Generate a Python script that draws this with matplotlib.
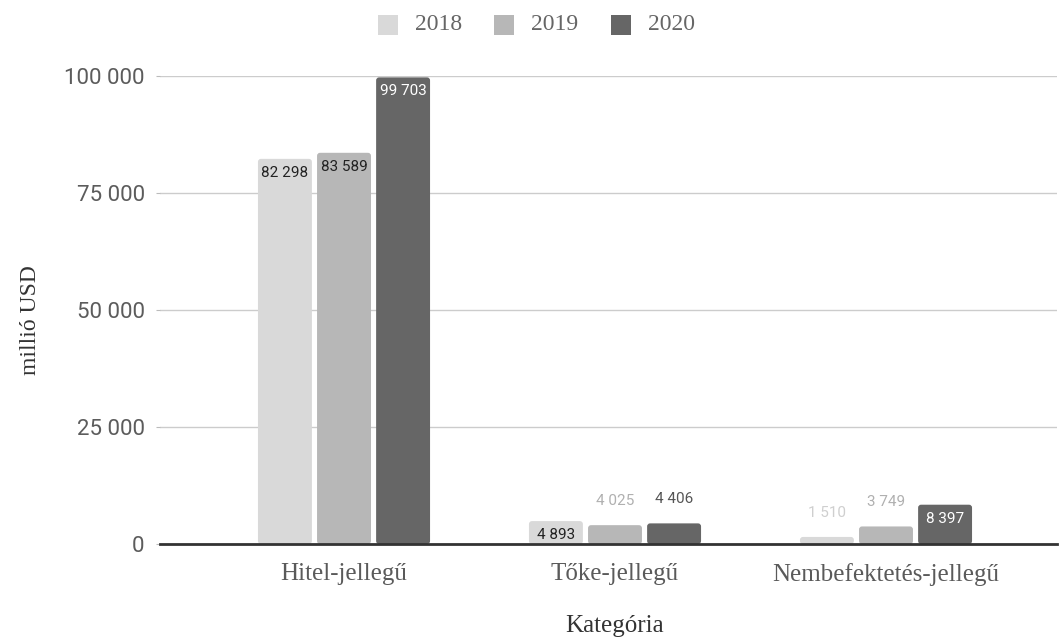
import matplotlib
matplotlib.use("Agg")
import matplotlib.pyplot as plt
from matplotlib.patches import FancyBboxPatch, Rectangle
import numpy as np

categories = ["Hitel-jellegű", "Tőke-jellegű", "Nembefektetés-jellegű"]
years = ["2018", "2019", "2020"]
values_2018 = [82298, 4893, 1510]
values_2019 = [83589, 4025, 3749]
values_2020 = [99703, 4406, 8397]
yticks = [0, 25000, 50000, 75000, 100000]

series = [values_2018, values_2019, values_2020]
colors = ["#d9d9d9", "#b7b7b7", "#666666"]
outside_text = ["#cfcfcf", "#b0b0b0", "#555555"]
inside_text = ["#222222", "#222222", "#ffffff"]

SERIF = "Liberation Serif"
SANS = "Roboto"

W, H = 1059, 639
fig = plt.figure(figsize=(W / 100, H / 100), dpi=100)
ax = fig.add_axes([160 / W, (H - 544) / H, 897 / W, 468 / H])
ax.set_xlim(-0.679, 2.631)
ax.set_ylim(0, 100000)

x = np.arange(len(categories))
bar_w = 0.199
step = 0.218

# data units per pixel, used to keep corner rounding circular
px_x = (2.631 + 0.679) / 897
px_y = 100000 / 468
aspect = px_y / px_x

for i, (vals, col) in enumerate(zip(series, colors)):
    for j, v in enumerate(vals):
        xc = x[j] + (i - 1) * step
        patch = FancyBboxPatch((xc - bar_w / 2, 0), bar_w, v,
                               boxstyle="round,pad=0,rounding_size=%f" % (3 * px_x),
                               mutation_aspect=aspect,
                               facecolor=col, edgecolor="none", zorder=3)
        ax.add_patch(patch)
        label = f"{v:,}".replace(",", " ")
        if v > 4500:
            ax.annotate(label, (xc, v), xytext=(0, -14), textcoords="offset pixels",
                        ha="center", va="center", fontsize=11, family=SANS,
                        color=inside_text[i], zorder=5)
        else:
            ax.annotate(label, (xc, v), xytext=(0, 24), textcoords="offset pixels",
                        ha="center", va="center", fontsize=11, family=SANS,
                        color=outside_text[i], zorder=5)

ax.set_yticks(yticks)
ax.set_yticklabels([f"{t:,}".replace(",", " ") for t in yticks],
                   family=SANS, fontsize=16, color="#5c5c5c")
ax.set_xticks(x)
ax.set_xticklabels(categories, family=SERIF, fontsize=18, color="#5a5a5a")
ax.tick_params(axis="y", length=3, color="#bbbbbb", pad=8)
ax.tick_params(axis="x", length=0, pad=14)

ax.grid(axis="y", color="#cccccc", linewidth=1, zorder=0)
ax.set_axisbelow(True)
for s in ["top", "right", "left"]:
    ax.spines[s].set_visible(False)
ax.spines["bottom"].set_color("#333333")
ax.spines["bottom"].set_linewidth(2)
ax.spines["bottom"].set_zorder(4)

fig.text(30 / W, 1 - 320 / H, "millió USD", rotation=90, ha="center", va="center",
         family=SERIF, fontsize=17, color="#333333")
fig.text(615 / W, 1 - 626 / H, "Kategória", ha="center", va="center",
         family=SERIF, fontsize=18, color="#333333")

# legend drawn in figure pixels
legend_sq_x = [378, 494, 611]
for sx, col, yr in zip(legend_sq_x, colors, years):
    fig.patches.append(Rectangle((sx / W, 1 - 35 / H), 20 / W, 20 / H,
                                 transform=fig.transFigure, facecolor=col,
                                 edgecolor="none"))
    fig.text((sx + 37) / W, 1 - 25 / H, yr, ha="left", va="center",
             family=SERIF, fontsize=17, color="#666666")

fig.savefig("out.png", dpi=100)
